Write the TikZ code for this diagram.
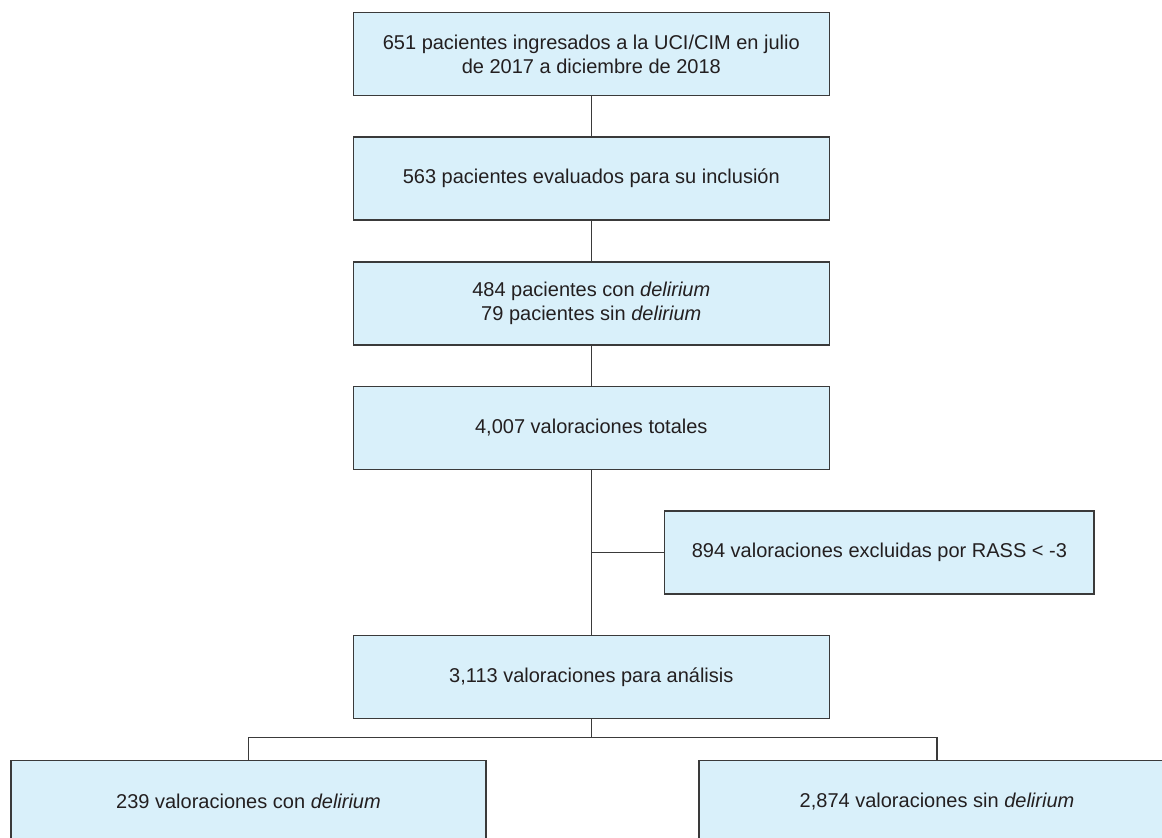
\documentclass[tikz,border=0pt]{standalone}
\usepackage{fontspec}
\setmainfont{Liberation Sans}
\definecolor{boxfill}{HTML}{D9F0FA}
\definecolor{boxline}{HTML}{3A3A3A}
\definecolor{txt}{HTML}{231F20}
\begin{document}
\begin{tikzpicture}[x=1pt,y=-1pt,
  flowbox/.style={draw=boxline, fill=boxfill, line width=1.4pt, inner sep=0pt,
    minimum width=476pt, minimum height=83pt, align=center, text=txt,
    font=\fontsize{20}{24}\selectfont},
  link/.style={draw=boxline, line width=1.4pt}]
\useasboundingbox (0,0) rectangle (1162,838);
\begin{scope}
\clip (0,0) rectangle (1162,838);
\node[flowbox] (b1) at (591.3,54.2) {651 pacientes ingresados a la UCI/CIM en julio\\de 2017 a diciembre de 2018};
\node[flowbox] (b2) at (591.3,178.3) {563 pacientes evaluados para su inclusión};
\node[flowbox] (b3) at (591.3,303.5) {484 pacientes con \textit{delirium}\\79 pacientes sin \textit{delirium}};
\node[flowbox] (b4) at (591.3,427.8) {4,007 valoraciones totales};
\node[flowbox, minimum width=429.3pt] (side) at (879.4,552.5) {894 valoraciones excluidas por RASS < -3};
\node[flowbox] (b5) at (591.3,677.2) {3,113 valoraciones para análisis};
\node[flowbox, minimum width=475pt] (bl) at (248.5,801.7) {239 valoraciones con \textit{delirium}};
\node[flowbox] (br) at (937,801.7) {2,874 valoraciones sin \textit{delirium}};
\coordinate (j) at (b4.south |- side.west);
\coordinate (bus) at (591.3,737.3);
\draw[link] (b1.south) -- (b2.north);
\draw[link] (b2.south) -- (b3.north);
\draw[link] (b3.south) -- (b4.north);
\draw[link] (b4.south) -- (b5.north);
\draw[link] (j) -- (side.west);
\draw[link] (b5.south) -- (bus);
\draw[link] (bl.north) -- (bl.north |- bus) -- (br.north |- bus) -- (br.north);
\end{scope}
\end{tikzpicture}
\end{document}
